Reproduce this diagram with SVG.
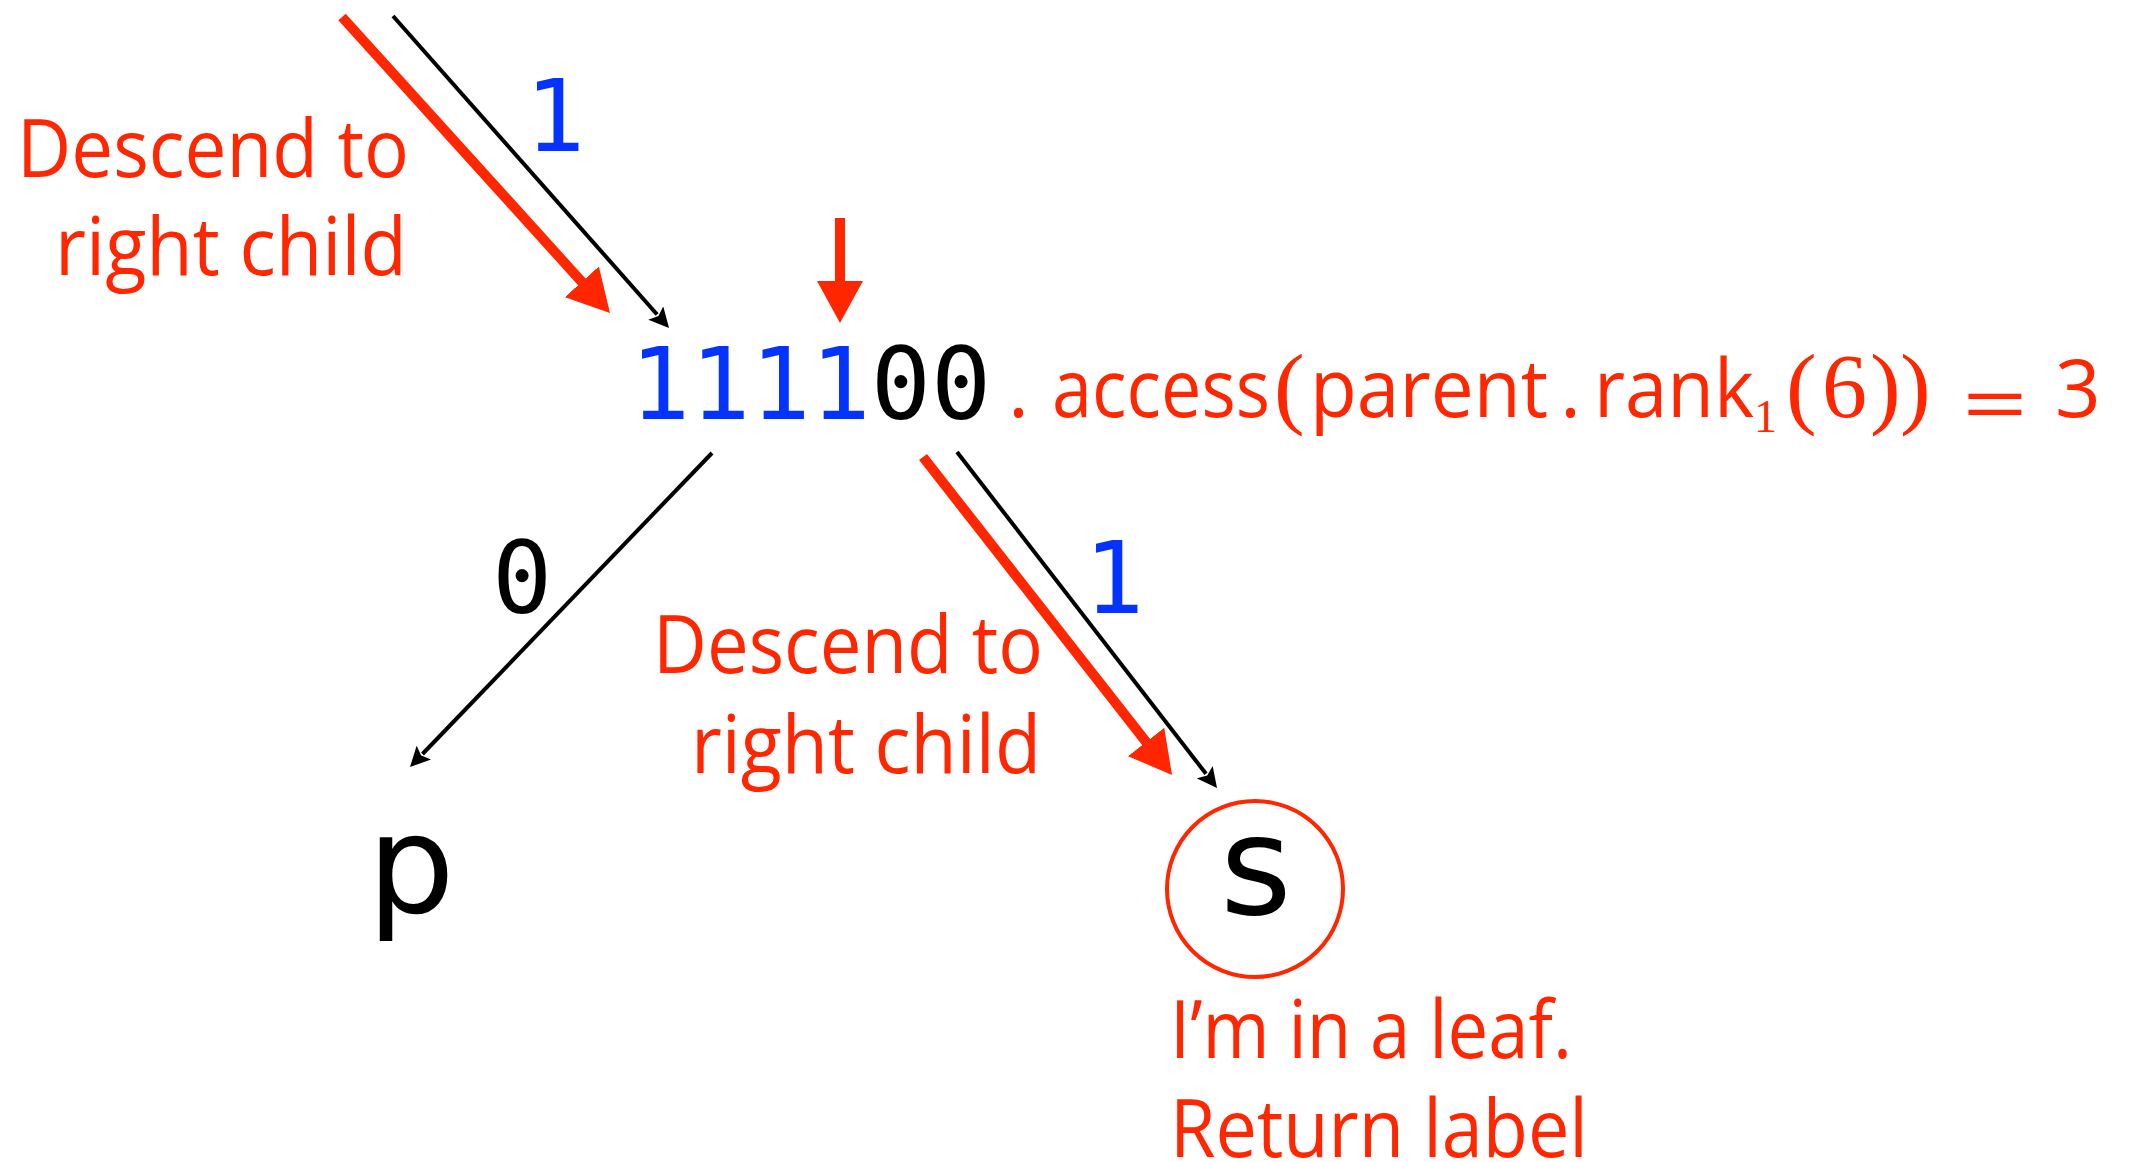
<svg xmlns="http://www.w3.org/2000/svg" width="2136" height="1162" viewBox="0 0 2136 1162">
  <style>
    .note { font-family: "Open Sans", "Liberation Sans", sans-serif; font-size: 80px; fill: #ff2600; }
    .serif { font-family: "Liberation Serif", serif; fill: #ff2600; }
    .mono { font-family: "DejaVu Sans Mono", "Liberation Mono", monospace; font-size: 100px; }
    .bit1 { fill: #0433ff; }
    .bit0 { fill: #000000; }
    .leaf { font-family: "DejaVu Sans", sans-serif; font-size: 138px; fill: #000000; }
    .edge { stroke: #000000; stroke-width: 4; fill: none; }
    .path { stroke: #ff2600; stroke-width: 10; fill: none; }
  </style>
  <defs>
    <marker id="headBlack" markerUnits="userSpaceOnUse" viewBox="0 0 20 20" markerWidth="20" markerHeight="20" refX="2" refY="10" orient="auto">
      <path d="M0,0 L20,10 L0,20 L4,10 Z" fill="#000000"/>
    </marker>
    <marker id="headRed" markerUnits="userSpaceOnUse" viewBox="0 0 42 46" markerWidth="42" markerHeight="46" refX="4" refY="23" orient="auto">
      <path d="M0,0 L42,23 L0,46 Z" fill="#ff2600"/>
    </marker>
  </defs>

  <!-- connectors -->
  <g id="connectors">
    <line class="path" x1="342" y1="17" x2="584.5" y2="284.8" marker-end="url(#headRed)"/>
    <line class="edge" x1="393" y1="16" x2="657.1" y2="314.5" marker-end="url(#headBlack)"/>
    <line class="path" x1="840" y1="218" x2="840" y2="285" marker-end="url(#headRed)"/>
    <line class="edge" x1="712" y1="453" x2="422.5" y2="754" marker-end="url(#headBlack)"/>
    <line class="path" x1="923" y1="457" x2="1148.6" y2="745.1" marker-end="url(#headRed)"/>
    <line class="edge" x1="957" y1="452" x2="1206" y2="773.8" marker-end="url(#headBlack)"/>
  </g>

  <!-- edge labels -->
  <g id="edge-labels">
    <text class="mono bit1" x="525" y="151">1</text>
    <text class="mono bit0" x="492" y="613">0</text>
    <text class="mono bit1" x="1084" y="613">1</text>
  </g>

  <!-- annotations -->
  <g id="note-top">
    <text class="note" x="17" y="177" textLength="392" lengthAdjust="spacingAndGlyphs">Descend to</text>
    <text class="note" x="55" y="275" textLength="352" lengthAdjust="spacingAndGlyphs">right child</text>
  </g>
  <g id="note-mid">
    <text class="note" x="653" y="673" textLength="390" lengthAdjust="spacingAndGlyphs">Descend to</text>
    <text class="note" x="691" y="773" textLength="350" lengthAdjust="spacingAndGlyphs">right child</text>
  </g>
  <g id="note-leaf">
    <text class="note" x="1170" y="1058" textLength="402" lengthAdjust="spacingAndGlyphs">I’m in a leaf.</text>
    <text class="note" x="1170" y="1157" textLength="418" lengthAdjust="spacingAndGlyphs">Return label</text>
  </g>

  <!-- internal node: bitvector -->
  <g id="node-root">
    <text class="mono" x="630" y="419"><tspan class="bit1">1111</tspan><tspan class="bit0">00</tspan></text>
  </g>

  <!-- access expression -->
  <g id="formula">
    <text class="note" x="1008" y="417">.</text>
    <text class="note" x="1052" y="417" textLength="218" lengthAdjust="spacingAndGlyphs">access</text>
    <text class="serif" x="1274" y="417" font-size="92">(</text>
    <text class="note" x="1310" y="417" textLength="238" lengthAdjust="spacingAndGlyphs">parent</text>
    <text class="note" x="1560" y="417">.</text>
    <text class="note" x="1594" y="417" textLength="160" lengthAdjust="spacingAndGlyphs">rank</text>
    <text class="serif" x="1754" y="432" font-size="46">1</text>
    <text class="serif" x="1786" y="417" font-size="92">(</text>
    <text class="serif" x="1822" y="417" font-size="90">6</text>
    <text class="serif" x="1870" y="417" font-size="92">)</text>
    <text class="serif" x="1900" y="417" font-size="92">)</text>
    <text class="note" x="1962" y="433" textLength="66" lengthAdjust="spacingAndGlyphs">=</text>
    <text class="note" x="2055" y="417">3</text>
  </g>

  <!-- leaves -->
  <g id="leaf-p">
    <text class="leaf" x="411" y="912" text-anchor="middle">p</text>
  </g>
  <g id="leaf-s">
    <circle cx="1255" cy="889" r="88" fill="none" stroke="#ff2600" stroke-width="4"/>
    <text class="leaf" x="1256" y="914" text-anchor="middle">s</text>
  </g>
</svg>
